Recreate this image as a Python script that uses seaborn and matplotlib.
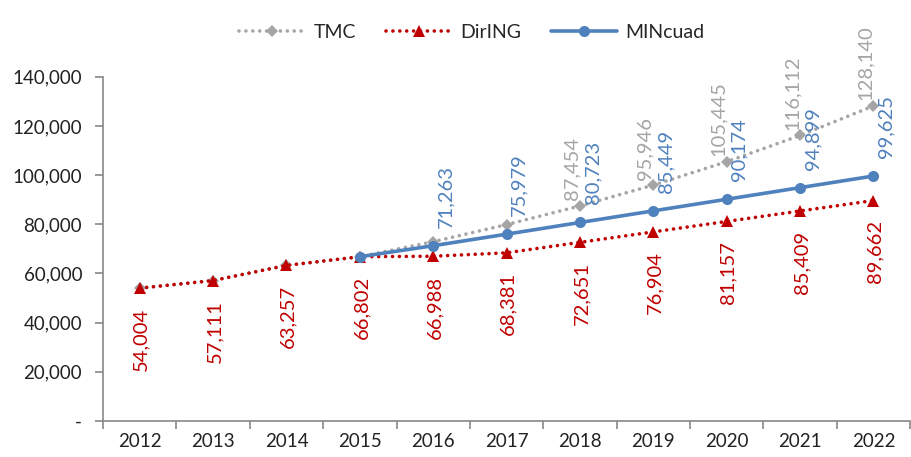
import numpy as np
import pandas as pd
import matplotlib
matplotlib.use("Agg")
import matplotlib.pyplot as plt
import seaborn as sns
from matplotlib.ticker import FuncFormatter, MultipleLocator, FixedLocator

years = [2012, 2013, 2014, 2015, 2016, 2017, 2018, 2019, 2020, 2021, 2022]
tmc = [54004, 57111, 63257, 66802, 72900, 79860, 87454, 95946, 105445, 116112, 128140]
diring = [54004, 57111, 63257, 66802, 66988, 68381, 72651, 76904, 81157, 85409, 89662]
mincuad_years = [2015, 2016, 2017, 2018, 2019, 2020, 2021, 2022]
mincuad = [66802, 71263, 75979, 80723, 85449, 90174, 94899, 99625]
tmc_label_from = 2018

GRAY = "#A5A5A5"
RED = "#C00000"
BLUE = "#4F81BD"

sns.set_theme(style="white")
plt.rcParams["font.family"] = ["Lato", "DejaVu Sans"]

fig, ax = plt.subplots(figsize=(9.12, 4.57), dpi=100)
fig.subplots_adjust(left=0.113, right=0.998, bottom=0.079, top=0.832)

dot = (0, (0.01, 1.9))
df_tmc = pd.DataFrame({"year": years, "v": tmc})
df_dir = pd.DataFrame({"year": years, "v": diring})
df_min = pd.DataFrame({"year": mincuad_years, "v": mincuad})

sns.lineplot(data=df_tmc, x="year", y="v", ax=ax, color=GRAY, lw=2.6,
             marker="D", markersize=6, markeredgewidth=0, label="TMC")
ax.lines[-1].set_linestyle(dot)
ax.lines[-1].set_dash_capstyle("round")
sns.lineplot(data=df_dir, x="year", y="v", ax=ax, color=RED, lw=2.6,
             marker="^", markersize=8, markeredgewidth=0, label="DirING")
ax.lines[-1].set_linestyle(dot)
ax.lines[-1].set_dash_capstyle("round")
sns.lineplot(data=df_min, x="year", y="v", ax=ax, color=BLUE, lw=2.6,
             marker="o", markersize=8, markeredgewidth=0, label="MINcuad")

fs = 14.5
for x, v in zip(years, diring):
    ax.annotate(f"{v:,}", (x, v), xytext=(1, -14), textcoords="offset points",
                rotation=90, ha="center", va="top", color=RED, fontsize=fs)
for x, v in zip(mincuad_years[1:], mincuad[1:]):
    ax.annotate(f"{v:,}", (x, v), xytext=(9, 13), textcoords="offset points",
                rotation=90, ha="center", va="bottom", color=BLUE, fontsize=fs)
for x, v in zip(years, tmc):
    if x >= tmc_label_from:
        ax.annotate(f"{v:,}", (x, v), xytext=(-6, 4), textcoords="offset points",
                    rotation=90, ha="center", va="bottom", color=GRAY, fontsize=fs)

ax.set_xlim(2011.5, 2022.5)
ax.set_ylim(0, 140000)
ax.yaxis.set_major_locator(MultipleLocator(20000))
ax.yaxis.set_major_formatter(FuncFormatter(lambda v, p: "-" if v == 0 else f"{int(v):,}"))
ax.xaxis.set_major_locator(FixedLocator(years))
ax.xaxis.set_minor_locator(FixedLocator([y - 0.5 for y in years] + [2022.5]))
ax.set_xticklabels([str(y) for y in years])
ax.tick_params(axis="x", which="major", length=0, pad=9, labelsize=13.5, colors="#222222")
ax.tick_params(axis="x", which="minor", length=6, width=1.2, color="#888888", direction="out", bottom=True)
ax.tick_params(axis="y", which="major", length=6, width=1.2, color="#888888", direction="out",
               left=True, labelsize=13.5, labelcolor="#222222", pad=9)
ax.set_xlabel("")
ax.set_ylabel("")
for s in ["top", "right"]:
    ax.spines[s].set_visible(False)
for s in ["left", "bottom"]:
    ax.spines[s].set_color("#888888")
    ax.spines[s].set_linewidth(1.2)

leg = ax.legend(loc="upper center", bbox_to_anchor=(0.457, 1.205), ncol=3, frameon=False,
                fontsize=14, handlelength=3.4, columnspacing=1.5, handletextpad=0.45)

fig.savefig("out.png", dpi=100)
